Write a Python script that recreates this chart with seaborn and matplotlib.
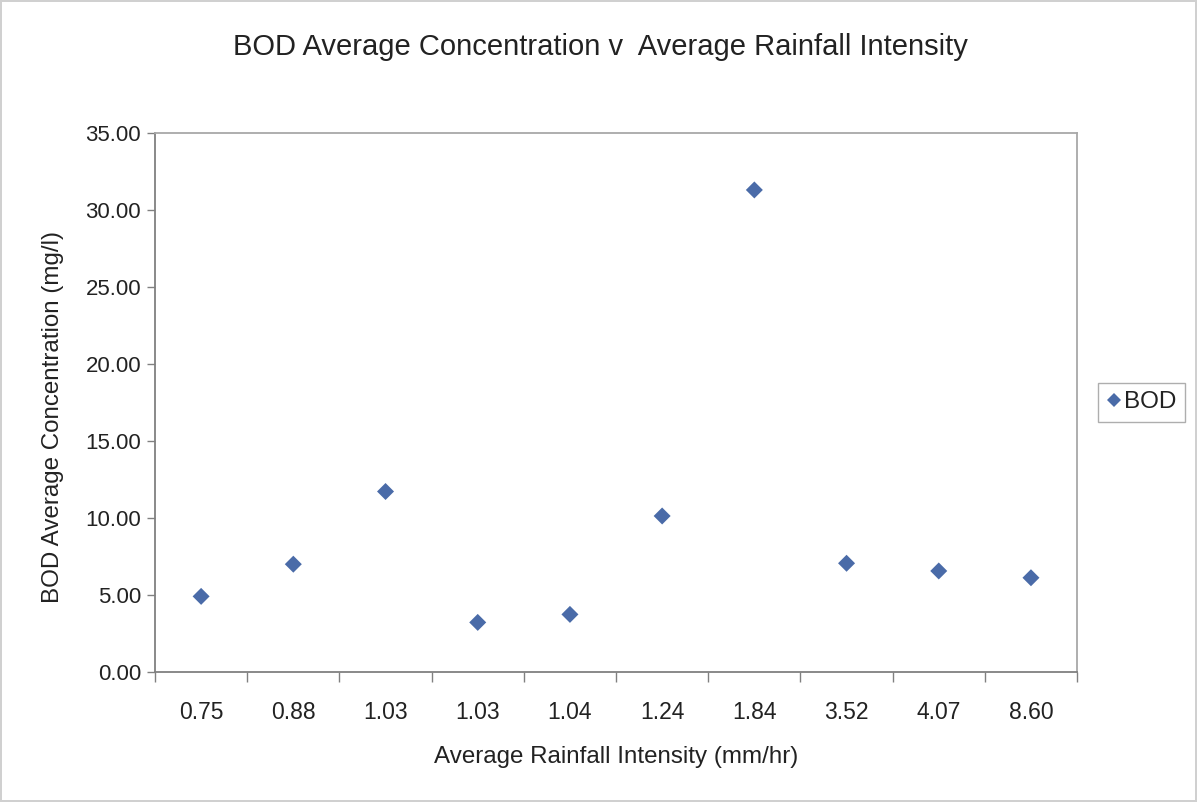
import numpy as np
import pandas as pd
import matplotlib
matplotlib.use("Agg")
import matplotlib.pyplot as plt
import seaborn as sns

# Average rainfall intensity (mm/hr) for each event, in plotted order
intensity_labels = ["0.75", "0.88", "1.03", "1.03", "1.04", "1.24", "1.84", "3.52", "4.07", "8.60"]
# BOD average concentration (mg/l)
bod_values = [4.91, 7.00, 11.72, 3.22, 3.74, 10.13, 31.30, 7.06, 6.56, 6.12]
y_ticks = [0, 5, 10, 15, 20, 25, 30, 35]

sns.set_theme(style="white")
plt.rcParams["font.family"] = ["Liberation Sans", "DejaVu Sans"]

df = pd.DataFrame({"pos": np.arange(len(bod_values)), "BOD": bod_values, "series": "BOD"})

fig = plt.figure(figsize=(11.97, 8.02), dpi=100)
fig.patch.set_facecolor("white")
fig.patch.set_edgecolor("#d0d0d0")
fig.patch.set_linewidth(1.5)
ax = fig.add_axes([0.1295, 0.1621, 0.7703, 0.6721])

sns.scatterplot(data=df, x="pos", y="BOD", hue="series", palette=["#4A6BA8"],
                marker="D", s=75, linewidth=0, ax=ax)

ax.set_xlim(-0.5, len(bod_values) - 0.5)
ax.set_ylim(0, 35)
ax.set_yticks(y_ticks)
ax.set_yticklabels([f"{v:.2f}" for v in y_ticks])

# Category boundaries carry the tick marks; labels sit at category centres
ax.set_xticks(np.arange(len(bod_values) + 1) - 0.5)
ax.set_xticklabels([])
ax.set_xticks(np.arange(len(bod_values)), minor=True)
ax.set_xticklabels(intensity_labels, minor=True)
ax.tick_params(axis="x", which="major", direction="out", length=7, width=1, color="#808080", bottom=True)
ax.tick_params(axis="x", which="minor", length=0, pad=21, labelsize=16.5, labelcolor="#222222")
ax.tick_params(axis="y", direction="out", length=6, width=1, color="#808080", left=True,
               labelsize=16, labelcolor="#222222", pad=4)

for side in ["left", "bottom"]:
    ax.spines[side].set_color("#808080")
    ax.spines[side].set_linewidth(1.3)
for side in ["top", "right"]:
    ax.spines[side].set_color("#a8a8a8")
    ax.spines[side].set_linewidth(1.3)

ax.set_xlabel("Average Rainfall Intensity (mm/hr)", fontsize=17.4, color="#222222", labelpad=16)
ax.set_ylabel("BOD Average Concentration (mg/l)", fontsize=17.4, color="#222222")
ax.yaxis.set_label_coords(-0.0985, 0.473)
fig.suptitle("BOD Average Concentration v  Average Rainfall Intensity", fontsize=21,
             color="#222222", x=0.502, y=0.941, va="center")

leg = ax.legend(loc="center left", bbox_to_anchor=(1.023, 0.5), borderaxespad=0,
                frameon=True, fancybox=False, fontsize=17.5, handletextpad=0.1,
                borderpad=0.35, handlelength=0.6, markerscale=0.85)
leg.get_frame().set_edgecolor("#9a9a9a")
leg.get_frame().set_linewidth(1.0)
for t in leg.get_texts():
    t.set_color("#222222")

fig.savefig("out.png", dpi=100)
